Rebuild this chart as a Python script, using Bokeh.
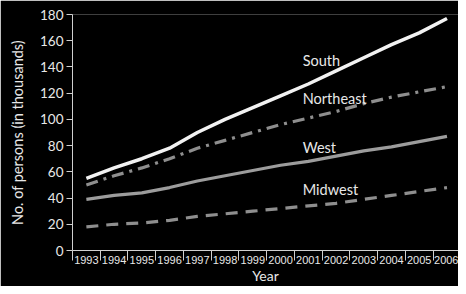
from bokeh.plotting import figure
from bokeh.models import Range1d, FixedTicker, Label
from bokeh.embed import file_html
from bokeh.resources import INLINE

years = [1993, 1994, 1995, 1996, 1997, 1998, 1999, 2000, 2001, 2002, 2003, 2004, 2005, 2006]
south = [55, 63, 70, 78, 90, 100, 109, 118, 127, 137, 147, 157, 166, 177]
northeast = [50, 57, 63, 70, 78, 84, 90, 96, 101, 106, 112, 117, 121, 125]
west = [39, 42, 44, 48, 53, 57, 61, 65, 68, 72, 76, 79, 83, 87]
midwest = [18, 20, 21, 23, 26, 28, 30, 32, 34, 36, 39, 42, 45, 48]
y_ticks = [0, 20, 40, 60, 80, 100, 120, 140, 160, 180]
series_labels = ["South", "Northeast", "West", "Midwest"]

W, H = 458, 286
left, top, bottom = 72, 14, 35
band = 27.74
x_start = years[0] - 0.5
x_end = x_start + (W - left) / band

p = figure(width=W, height=H, output_backend="svg", toolbar_location=None,
           x_range=Range1d(x_start, x_end), y_range=Range1d(0, 180),
           background_fill_color="black", border_fill_color="black",
           min_border_left=left, min_border_right=0, min_border_top=top,
           min_border_bottom=bottom)
p.outline_line_color = None
p.grid.visible = False

FONT = "Lato"
axis_col = "#d0d0d0"
text_col = "#e8e8e8"

# x axis: labels at band centres, tick marks at band edges
p.xaxis.ticker = FixedTicker(ticks=years, minor_ticks=[y - 0.5 for y in years] + [years[-1] + 0.5])
p.xaxis.major_tick_out = 0
p.xaxis.major_tick_in = 0
p.xaxis.minor_tick_out = 10
p.xaxis.minor_tick_in = 0
p.xaxis.minor_tick_line_color = axis_col
p.xaxis.axis_line_color = axis_col
p.xaxis.major_label_text_font = "Liberation Sans"
p.xaxis.major_label_text_font_size = "11px"
p.xaxis.major_label_text_color = text_col
p.xaxis.major_label_standoff = -5
p.xaxis.axis_label = "Year"
p.xaxis.axis_label_text_font = FONT
p.xaxis.axis_label_text_font_style = "normal"
p.xaxis.axis_label_text_font_size = "14px"
p.xaxis.axis_label_text_color = text_col
p.xaxis.axis_label_standoff = 0

# y axis
p.yaxis.ticker = FixedTicker(ticks=y_ticks)
p.yaxis.minor_tick_line_color = None
p.yaxis.major_tick_out = 6
p.yaxis.major_tick_in = 0
p.yaxis.major_tick_line_color = axis_col
p.yaxis.axis_line_color = axis_col
p.yaxis.major_label_text_font = FONT
p.yaxis.major_label_text_font_size = "13.5px"
p.yaxis.major_label_text_color = text_col
p.yaxis.major_label_standoff = 3
p.yaxis.axis_label = "No. of persons (in thousands)"
p.yaxis.axis_label_text_font = FONT
p.yaxis.axis_label_text_font_style = "normal"
p.yaxis.axis_label_text_font_size = "14.5px"
p.yaxis.axis_label_text_color = text_col
p.yaxis.axis_label_standoff = 11

p.line(years, midwest, line_color="#8e8e8e", line_width=3.2, line_dash="12 8")
p.line(years, west, line_color="#9c9c9c", line_width=3.2)
p.line(years, northeast, line_color="#8e8e8e", line_width=3.2, line_dash="12 6 3 6")
p.line(years, south, line_color="#f2f2f2", line_width=3.5)

label_y = [145, 116.2, 78.2, 46.8]
for t, yy in zip(series_labels, label_y):
    p.add_layout(Label(x=2000.8, y=yy, text=t, text_font=FONT, text_font_size="14.5px",
                       text_color=text_col, text_align="left", text_baseline="middle"))

open("out.html", "w").write(file_html(p, INLINE))
